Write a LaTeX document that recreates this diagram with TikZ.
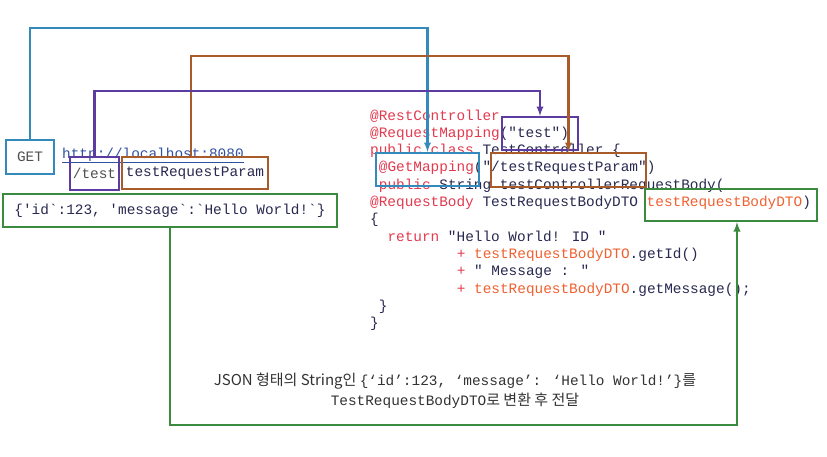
\documentclass[tikz,border=0pt]{standalone}
\usepackage{fontspec}
\usepackage{xcolor}
\usetikzlibrary{arrows}
\newfontfamily\codefont{Liberation Mono}
\newfontfamily\krfont{Noto Sans CJK KR}
\definecolor{kwred}{RGB}{226,58,78}
\definecolor{varorange}{RGB}{240,96,48}
\definecolor{txtnavy}{RGB}{40,40,80}
\definecolor{linkblue}{RGB}{48,80,160}
\definecolor{capgray}{RGB}{50,50,50}
\definecolor{getgray}{RGB}{80,80,80}
\definecolor{getblue}{RGB}{52,138,186}
\definecolor{pathpurple}{RGB}{92,60,160}
\definecolor{parambrown}{RGB}{168,92,44}
\definecolor{bodygreen}{RGB}{58,138,64}
\newcommand{\kw}[1]{\textcolor{kwred}{#1}}
\newcommand{\vr}[1]{\textcolor{varorange}{#1}}
\tikzset{
  box/.style={draw,line width=2.2pt,inner sep=0pt},
  code/.style={anchor=base west,inner sep=0pt,text=txtnavy,font=\codefont\fontsize{14.4}{17}\selectfont},
  conn/.style={line width=2.2pt,-latex},
}

\begin{document}
\begin{tikzpicture}[x=1pt,y=-1pt]
        \useasboundingbox (0,0) rectangle (827,456);
        % request side
        \node[box,draw=getblue,minimum width=48pt,minimum height=34pt,font=\codefont\fontsize{14.4}{17}\selectfont,text=getgray] (get) at (30,157) {GET};
        \node[code,text=linkblue] (url) at (62,158) {\underline{http://localhost:8080}};
        \node[box,draw=pathpurple,minimum width=49pt,minimum height=33pt,font=\codefont\fontsize{14.4}{17}\selectfont,text=getgray] (testpath) at (94.5,173.5) {/test};
        \node[box,draw=parambrown,minimum width=146pt,minimum height=32pt,font=\codefont\fontsize{14.4}{17}\selectfont,text=txtnavy] (param) at (195,173) {testRequestParam};
        \node[box,draw=bodygreen,minimum width=334pt,minimum height=33pt,font=\codefont\fontsize{14.4}{17}\selectfont,text=txtnavy] (json) at (170,210.5) {\{'id`:123, 'message`:`Hello World!`\}};

        % controller code
        \node[code] (rest) at (370,120) {\kw{@RestController}};
        \node[code] (reqmap) at (370,137.3) {\kw{@RequestMapping}("test")};
        \node[code] (ctrl) at (370,154.6) {\kw{public class} TestController \{};
        \node[code] (getline) at (378.7,171.9) {\kw{@GetMapping}("/testRequestParam")};
        \node[code] (sigline) at (378.7,189.2) {\kw{public} String testControllerRequestBody(};
        \node[code] (bodyline) at (370,206.5) {\kw{@RequestBody} TestRequestBodyDTO \vr{testRequestBodyDTO})};
        \node[code] (open) at (370,223.8) {\{};
        \node[code] (ret) at (387.3,241.1) {\kw{return} "Hello World! ID "};
        \node[code] (plusid) at (456.7,258.4) {\kw{+} \vr{testRequestBodyDTO}.getId()};
        \node[code] (plusmsg) at (456.7,275.7) {\kw{+} " Message : "};
        \node[code] (plusget) at (456.7,293) {\kw{+} \vr{testRequestBodyDTO}.getMessage();};
        \node[code] (closem) at (378.7,310.3) {\}};
        \node[code] (closec) at (370,327.6) {\}};

        % boxes on the code
        \node[box,draw=pathpurple,minimum width=76pt,minimum height=33pt] (testmap) at (540,133.5) {};
        \node[box,draw=getblue,minimum width=103pt,minimum height=33pt] (getmap) at (427.5,169.5) {};
        \node[box,draw=parambrown,minimum width=155pt,minimum height=34pt] (parammap) at (568.5,170) {};
        \node[box,draw=bodygreen,minimum width=172pt,minimum height=32pt] (dtoarg) at (731,205) {};

        % connectors
        \draw[conn,getblue] (get.north) -- (get.north |- 0,28) -| (getmap.north);
        \draw[conn,parambrown] ([xshift=-4pt]param.north) -- ([xshift=-4pt]param.north |- 0,56) -| (parammap.north);
        \draw[conn,pathpurple] (testpath.north) -- (testpath.north |- 0,91) -| (testmap.north);
        \draw[conn,bodygreen] (json.south) -- (json.south |- 0,425) -| ([xshift=6pt]dtoarg.south);

        \node[align=center,text=capgray,font=\krfont\fontsize{15}{20}\selectfont] (caption) at (455,391)
            {JSON 형태의 String인 {\codefont\fontsize{14.4}{17}\selectfont\{‘id’:123, ‘message’: ‘Hello World!’\}}를\\
             {\codefont\fontsize{14.4}{17}\selectfont TestRequestBodyDTO}로 변환 후 전달};
\end{tikzpicture}
\end{document}
